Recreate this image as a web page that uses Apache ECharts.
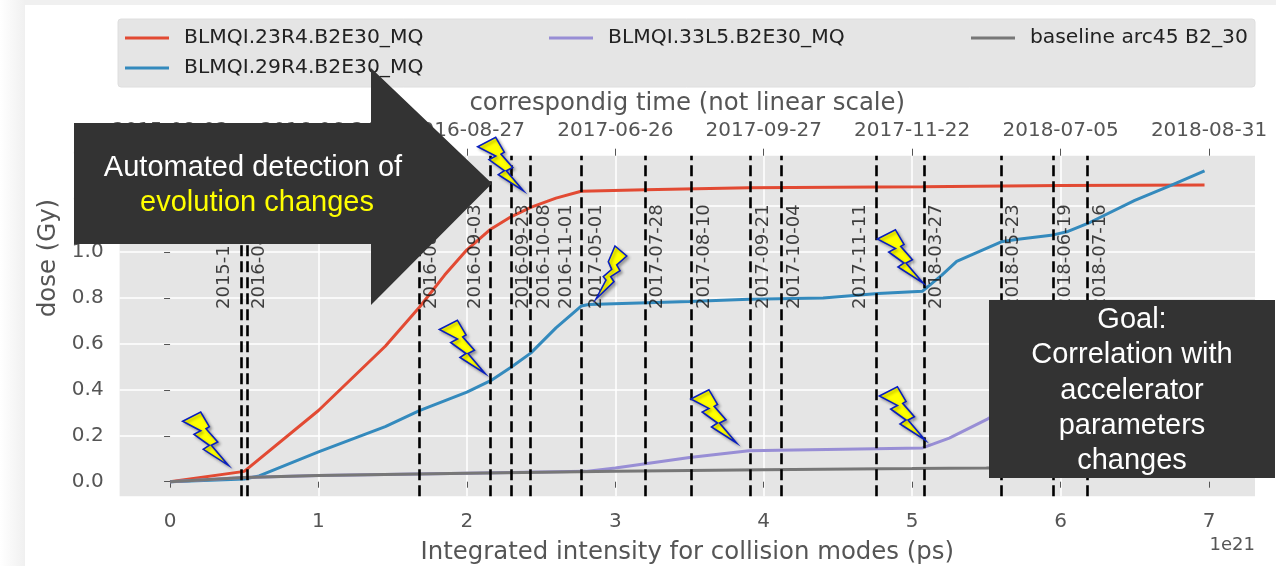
<!DOCTYPE html>
<html><head><meta charset="utf-8">
<style>html,body{margin:0;padding:0;background:#fff}#c{width:1276px;height:566px}</style>
<script src="https://cdn.jsdelivr.net/npm/echarts@6/dist/echarts.min.js"></script>
</head><body><div id="c"></div>
<script>
const x23 = [0,0.5,1.0,1.45,1.68,1.85,2.0,2.16,2.3,2.43,2.6,2.77,3.2,3.9,5.07,6.0,6.97];
const y23 = [0,0.045,0.31,0.59,0.76,0.90,1.01,1.10,1.155,1.195,1.235,1.265,1.272,1.28,1.285,1.29,1.292];
const x29 = [0,0.5,0.6,1.0,1.45,1.68,2.0,2.16,2.3,2.43,2.6,2.77,2.82,3.5,3.9,4.4,4.77,5.07,5.2,5.3,5.6,5.7,5.95,6.05,6.2,6.5,6.74,6.97];
const y29 = [0,0.012,0.025,0.13,0.24,0.31,0.39,0.44,0.50,0.56,0.67,0.765,0.772,0.785,0.795,0.80,0.82,0.83,0.90,0.96,1.045,1.055,1.075,1.09,1.13,1.225,1.29,1.354];
const x33 = [0,0.5,1,2,2.8,3.0,3.5,3.9,4.1,5.07,5.25,5.5,5.6,6.2,6.97];
const y33 = [0,0.018,0.027,0.037,0.045,0.06,0.105,0.135,0.137,0.147,0.19,0.27,0.31,0.45,0.6];
const xBase = [0,0.5,1,2,3,4,5,5.5,6.97];
const yBase = [0,0.018,0.027,0.037,0.045,0.052,0.057,0.06,0.07];
const changeX = [0.478,0.515,1.675,2.16,2.296,2.43,2.775,3.203,3.512,3.906,4.118,4.757,5.075,5.6,5.95,6.184];
const dateNames = ['2015-11-02','2016-04-28','2016-08-05','2016-09-03','2016-09-23','2016-10-08','2016-11-01','2017-05-01','2017-07-28','2017-08-10','2017-09-21','2017-10-04','2017-11-11','2018-03-27','2018-05-23','2018-06-19','2018-07-16'];
const dateX = [0.364,0.599,1.763,2.058,2.382,2.519,2.670,2.869,3.286,3.603,4.0,4.209,4.653,5.165,5.684,6.034,6.27];
const dateY = 0.98;
const xTicks = [0,1,2,3,4,5,6,7];
const yTicks = [0,0.2,0.4,0.6,0.8,1.0,1.2,1.4];
const topLabels = ['2015-08-03','2016-06-24','2016-08-27','2017-06-26','2017-09-27','2017-11-22','2018-07-05','2018-08-31'];
const names = ['BLMQI.23R4.B2E30_MQ','BLMQI.29R4.B2E30_MQ','BLMQI.33L5.B2E30_MQ','baseline arc45 B2_30'];
const colors = ['#E24A33','#348ABD','#988ED5','#777777'];
const zip = (a,b)=>a.map((v,i)=>[v,b[i]]);
const F = 'DejaVu Sans';
const TXT = '#555555';

const boltA = [[-45.6,-44],[-27.6,-53.3],[-19,-38.6],[-22.3,-36.6],[-10.6,-23.3],[-17,-20],[0,0],[-25,-16],[-19,-20],[-34.3,-31],[-27.6,-34.6]];
const boltB = [[19,-53],[30.7,-43],[20.7,-34],[24,-28.3],[14.7,-22.3],[18,-17.3],[0,0],[10,-19],[7.3,-22.3],[15.7,-29.7],[12.3,-37.3]];
function bolt(shape,tx,ty){
  return {type:'polygon',z:110,shape:{points:shape.map(p=>[p[0]+tx,p[1]+ty])},
    style:{fill:'#FFFF00',stroke:'#0A1FBF',lineWidth:1.6,shadowBlur:3,shadowOffsetX:2,shadowOffsetY:2,shadowColor:'rgba(0,0,0,0.3)'}};
}
function note(t,x,y,c){
  return {type:'text',z:120,style:{text:t,x:x,y:y,fill:c||'#fff',font:'29px "Liberation Sans"',align:'center',verticalAlign:'middle'}};
}
const overlays = [
  {type:'rect',z:0,shape:{x:0,y:0,width:25,height:566},style:{fill:{type:'linear',x:0,y:0,x2:1,y2:0,colorStops:[{offset:0,color:'#ffffff'},{offset:1,color:'#f0f0f0'}]}}},
  {type:'rect',z:0,shape:{x:25,y:0,width:1251,height:5},style:{fill:'#f0f0f0'}},
  {type:'rect',z:1,shape:{x:118,y:19,width:1137,height:68,r:3},style:{fill:'#E5E5E5',stroke:'#dedede',lineWidth:1}},
  {type:'polygon',z:100,shape:{points:[[74,123],[371,123],[371,68],[492,183.5],[371,305],[371,244],[74,244]]},style:{fill:'#333333'}},
  {type:'rect',z:100,shape:{x:989,y:300,width:286,height:178},style:{fill:'#333333'}},
  note('Automated detection of',253,168),
  note('evolution changes',257,203,'#FFFF00'),
  note('Goal:',1132,320),note('Correlation with',1132,355),note('accelerator',1132,391),note('parameters',1132,426),note('changes',1132,461),
  {type:'text',z:5,style:{text:'1e21',x:1255,y:545,fill:TXT,font:'18px "DejaVu Sans"',align:'right',verticalAlign:'middle'}},
  bolt(boltA,228.3,465.3),bolt(boltA,485,373.5),bolt(boltA,523.3,190.7),bolt(boltB,596,299),
  bolt(boltA,736.5,443),bolt(boltA,925,440),bolt(boltA,923,283)
];
const legendBase = {orient:'vertical',padding:0,icon:'rect',itemWidth:44,itemHeight:3,itemGap:10,z:5,
  textStyle:{fontFamily:F,fontSize:20.3,lineHeight:20,color:'#222',padding:[0,0,0,10]}};
const line = (i,x,y)=>({type:'line',name:names[i],data:zip(x,y),showSymbol:false,symbol:'none',
  xAxisIndex:0,yAxisIndex:0,lineStyle:{color:colors[i],width:3},itemStyle:{color:colors[i]},animation:false,z:3});
const option = {
  animation:false,backgroundColor:'#fff',
  grid:{left:119.6,right:21,top:155.7,bottom:69.7,show:true,backgroundColor:'#E5E5E5',borderWidth:0,containLabel:false,outerBoundsMode:'none'},
  legend:[
    Object.assign({},legendBase,{left:125,top:28,data:[names[0],names[1]]}),
    Object.assign({},legendBase,{left:549,top:28,data:[names[2]]}),
    Object.assign({},legendBase,{left:971,top:28,data:[names[3]]})
  ],
  xAxis:[
    {type:'value',min:-0.34,max:7.31,splitNumber:8,position:'bottom',
     name:'Integrated intensity for collision modes (ps)',nameLocation:'middle',nameGap:44,
     nameTextStyle:{fontFamily:F,fontSize:24.4,color:TXT},
     axisLine:{show:false},
     axisTick:{show:true,length:6,customValues:xTicks,lineStyle:{color:TXT}},
     axisLabel:{customValues:xTicks,fontFamily:F,fontSize:20,color:TXT,margin:15},
     splitLine:{show:true,showMinLine:false,showMaxLine:false,lineStyle:{color:'#fff',width:1.5}}},
    {type:'value',min:-0.34,max:7.31,splitNumber:8,position:'top',
     name:'correspondig time (not linear scale)',nameLocation:'middle',nameGap:35,
     nameTextStyle:{fontFamily:F,fontSize:24.4,color:TXT},
     axisLine:{show:false},
     axisTick:{show:true,length:7,customValues:xTicks,lineStyle:{color:TXT}},
     axisLabel:{customValues:xTicks,fontFamily:F,fontSize:20,color:TXT,margin:15,hideOverlap:false,formatter:v=>topLabels[Math.round(v)]},
     splitLine:{show:false}}
  ],
  yAxis:{type:'value',min:-0.0636,max:1.42,splitNumber:7,
     name:'dose (Gy)',nameLocation:'middle',nameGap:48,
     nameTextStyle:{fontFamily:F,fontSize:24.4,color:TXT,padding:[0,0,0,136]},
     axisLine:{show:false},
     axisTick:{show:true,length:6,customValues:yTicks,lineStyle:{color:TXT}},
     axisLabel:{customValues:yTicks,fontFamily:F,fontSize:20,color:TXT,margin:16,formatter:v=>v.toFixed(1)},
     splitLine:{show:true,showMinLine:false,showMaxLine:false,lineStyle:{color:'#fff',width:1.5}}},
  series:[
    {type:'scatter',name:'dates',symbolSize:0,z:4,silent:true,animation:false,
     data:dateX.map((x,i)=>({value:[x,dateY],name:dateNames[i]})),
     label:{show:true,position:'inside',rotate:90,formatter:p=>p.name,fontFamily:F,fontSize:18,color:'#111'},
     markLine:{silent:true,symbol:'none',animation:false,label:{show:false},
       lineStyle:{color:'#000',type:[11,5],width:2.6},
       data:changeX.map(x=>({xAxis:x}))}},
    line(0,x23,y23),line(1,x29,y29),line(2,x33,y33),line(3,xBase,yBase)
  ],
  graphic:{elements:overlays}
};
const chart = echarts.init(document.getElementById('c'),null,{renderer:'canvas'});
chart.setOption(option);
</script></body></html>
